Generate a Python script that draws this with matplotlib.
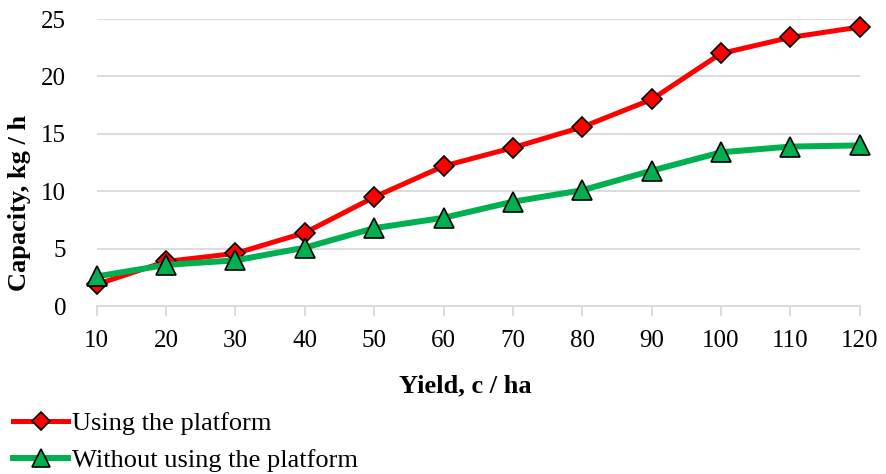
import matplotlib
matplotlib.use("Agg")
import matplotlib.pyplot as plt
from matplotlib.lines import Line2D

yield_vals = [10, 20, 30, 40, 50, 60, 70, 80, 90, 100, 110, 120]
using_platform = [1.9, 3.9, 4.6, 6.4, 9.5, 12.2, 13.8, 15.6, 18.0, 22.0, 23.4, 24.3]
without_platform = [2.6, 3.6, 4.0, 5.1, 6.8, 7.7, 9.1, 10.1, 11.8, 13.4, 13.9, 14.0]
y_ticks = [0, 5, 10, 15, 20, 25]

plt.rcParams['font.family'] = ['Liberation Serif', 'DejaVu Serif']

fig = plt.figure(figsize=(8.86, 4.74), dpi=100)
W, H = 886, 474
left, right, top, bottom = 96.7, 859.7, 19.0, 306.3
ax = fig.add_axes([left / W, 1 - bottom / H, (right - left) / W, (bottom - top) / H])

ax.plot(yield_vals, using_platform, color='#ff0000', lw=3.6, marker='D', ms=10,
        mfc='#ff0000', mec='black', mew=1.2, zorder=3, clip_on=False, label='Using the platform')
ax.plot(yield_vals, without_platform, color='#00b050', lw=4.3, marker='^', ms=14.5,
        mfc='#00b050', mec='black', mew=1.2, zorder=4, clip_on=False, label='Without using the platform')

ax.set_xlim(10, 120)
ax.set_ylim(0, 25)
ax.set_xticks(yield_vals)
ax.set_yticks(y_ticks)
ax.grid(axis='y', color='#d9d9d9', lw=1.3)
ax.set_axisbelow(True)
for s in ['top', 'right', 'left']:
    ax.spines[s].set_visible(False)
ax.spines['bottom'].set_color('#d9d9d9')
ax.spines['bottom'].set_linewidth(1.3)
ax.tick_params(axis='x', length=7, width=1.3, color='#d9d9d9', labelsize=18, pad=10)
ax.tick_params(axis='y', length=0, labelsize=18, pad=22)

fig.text(465 / W, 1 - 392 / H, 'Yield, c / ha', fontsize=19, fontweight='bold',
         ha='center', va='baseline')
fig.text(19.5 / W, 1 - 203 / H, 'Capacity, kg / h', fontsize=19, fontweight='bold',
         rotation=90, ha='center', va='center')

handles = [
    Line2D([], [], color='#ff0000', lw=3.6, marker='D', ms=9, mfc='#ff0000', mec='black', mew=1.2),
    Line2D([], [], color='#00b050', lw=4.3, marker='^', ms=13, mfc='#00b050', mec='black', mew=1.2),
]
fig.legend(handles, ['Using the platform', 'Without using the platform'],
           loc='upper left', bbox_to_anchor=(13 / W, 1 - 412 / H), frameon=False, fontsize=19,
           handlelength=2.1, handletextpad=0.15, labelspacing=0.5, borderaxespad=0, borderpad=0)

fig.savefig('out.png', dpi=100)
